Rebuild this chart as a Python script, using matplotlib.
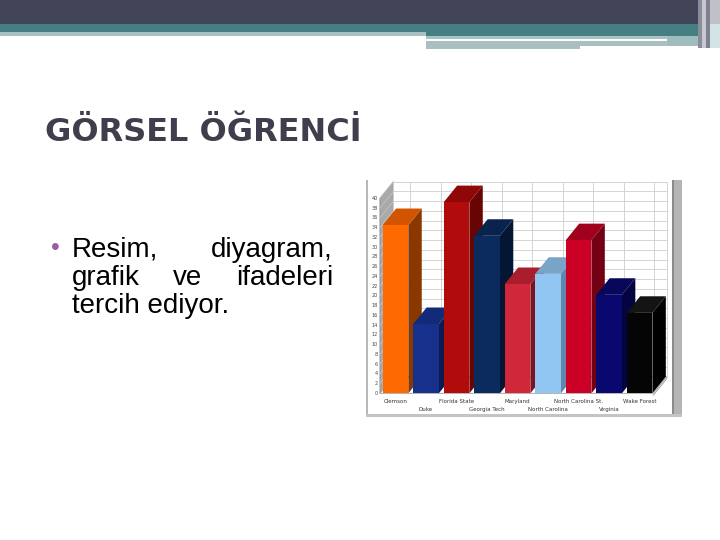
import numpy as np
import matplotlib
matplotlib.use('Agg')
import matplotlib.pyplot as plt
from matplotlib.patches import Polygon, Rectangle

# chart data
teams = ['Clemson', 'Duke', 'Florida State', 'Georgia Tech', 'Maryland',
         'North Carolina', 'North Carolina St.', 'Virginia', 'Wake Forest']
values = [34.5, 14.2, 39.2, 32.3, 22.4, 24.5, 31.4, 20.2, 16.5]
front_colors = ['#ff6a00', '#17308c', '#b20b0b', '#0b2a5e', '#d0283a',
                '#92c6f2', '#cc0027', '#08086e', '#050505']
top_colors = ['#d25300', '#132a78', '#8f0707', '#0a234e', '#a81e2d',
              '#7aa3c8', '#a1001c', '#08085a', '#141414']
side_colors = ['#8a3800', '#0c1b52', '#690404', '#051634', '#7c1320',
               '#5f86ab', '#730013', '#040440', '#000000']
yticks = list(range(0, 41, 2))

title = 'GÖRSEL ÖĞRENCİ'
line1 = ['Resim,', 'diyagram,']
line2 = ['grafik', 've', 'ifadeleri']
line3 = 'tercih ediyor.'

fig = plt.figure(figsize=(7.2, 5.4), dpi=100)
fig.patch.set_facecolor('white')

# overlay in pixel coordinates for the slide decoration
deco = fig.add_axes([0, 0, 1, 1])
deco.set_xlim(0, 720)
deco.set_ylim(540, 0)
deco.axis('off')

def box(x0, y0, x1, y1, c):
    deco.add_patch(Rectangle((x0, y0), x1 - x0, y1 - y0, facecolor=c, edgecolor='none'))

# header band
box(0, 0, 700, 24, '#414356')
box(0, 24, 700, 32, '#467f83')
box(426, 32, 700, 36, '#467f83')
box(0, 32, 426, 36, '#a8c1c3')
box(426, 36, 667, 39, '#a9c2c4')
box(426, 41, 667, 46, '#a9bfc1')
box(426, 46, 580, 49, '#a9bfc1')
box(667, 36, 700, 46, '#9fbcbf')
box(698, 0, 702, 48, '#8b8d9a')
box(702, 0, 706, 48, '#c8c9d0')
box(706, 0, 710, 48, '#7e8090')
box(710, 0, 720, 24, '#bfc0c8')
box(710, 24, 720, 48, '#d4e4e5')

# chart picture frame
box(365, 178, 682, 418, 'white')
box(366, 180, 368, 416, '#b8b8b8')
box(672, 180, 682, 416, '#b5b5b5')
box(672, 180, 674, 416, '#8c8c8c')
box(366, 414, 682, 417, '#c4c4c4')

# title and bullet text
deco.text(45, 141, title, fontsize=23, family='DejaVu Sans', fontweight='bold',
          color='#3e3e4c', va='baseline', ha='left')
deco.text(55, 248, '•', fontsize=18, family='Liberation Sans', color='#9b5ba5',
          va='center', ha='center')
tkw = dict(fontsize=20, family='Liberation Sans', color='black', va='baseline')
x_left, x_right = 72, 333
deco.text(x_left, 257, line1[0], ha='left', **tkw)
deco.text(x_right, 257, line1[1], ha='right', **tkw)
w_objs = [deco.text(x_left, 285, w, ha='left', **tkw) for w in line2]
deco.text(x_left, 313, line3, ha='left', **tkw)

# justify the middle line
r = fig.canvas.get_renderer()
widths = [t.get_window_extent(r).width for t in w_objs]
gap = (x_right - x_left - sum(widths)) / 2
w_objs[1].set_x(x_left + widths[0] + gap)
w_objs[2].set_x(x_left + widths[0] + gap + widths[1] + gap)

# 3D-looking bar chart
ax = fig.add_axes([365 / 720, 1 - 417 / 540, 317 / 720, 237 / 540])
ax.set_xlim(-0.58, 9.81)
ax.set_ylim(-4.86, 43.75)
ax.axis('off')

w = 0.84
dx, dy = 0.44, 3.4
x0f, x1f = -0.09, 8.87

# left wall, back wall, floor
ax.add_patch(Polygon([(x0f, 0), (x0f + dx, dy), (x0f + dx, 40 + dy), (x0f, 40)],
                     facecolor='#a9a9a9', edgecolor='#8c8c8c', lw=0.6, zorder=1))
ax.add_patch(Rectangle((x0f + dx, dy), x1f - x0f, 40, facecolor='white',
                       edgecolor='#cfcfcf', lw=0.6, zorder=1))
for v in yticks:
    ax.plot([x0f + dx, x1f + dx], [v + dy, v + dy], color='#d4d4d4', lw=0.7, zorder=1.5)
    ax.plot([x0f, x0f + dx], [v, v + dy], color='#c8c8c8', lw=0.5, zorder=1.5)
for k in range(9):
    ax.plot([0.9 + k, 0.9 + k], [dy, 40 + dy], color='#d4d4d4', lw=0.7, zorder=1.5)
ax.add_patch(Polygon([(x0f, 0), (x1f, 0), (x1f + dx, dy), (x0f + dx, dy)],
                     facecolor='white', edgecolor='#9a9a9a', lw=0.6, zorder=1.6))
ax.plot([x1f, x1f + dx], [-0.4, dy - 0.4], color='#9a9a9a', lw=0.6, zorder=1.6)

xs = np.arange(len(teams))
for i, (x, v) in enumerate(zip(xs, values)):
    z = 2 + i
    ax.add_patch(Polygon([(x + w, 0), (x + w + dx, dy), (x + w + dx, v + dy), (x + w, v)],
                         facecolor=side_colors[i], edgecolor='none', zorder=z))
    ax.add_patch(Polygon([(x, v), (x + w, v), (x + w + dx, v + dy), (x + dx, v + dy)],
                         facecolor=top_colors[i], edgecolor='none', zorder=z))
    ax.bar(x, v, width=w, align='edge', color=front_colors[i], zorder=z + 0.5)

for v in yticks:
    ax.text(-0.17, v, str(v), fontsize=3.5, color='#444444', ha='right', va='center')
for i, t in enumerate(teams):
    yy = -1.6 if i % 2 == 0 else -3.4
    ax.text(xs[i] + w / 2, yy, t, fontsize=4, color='#333333', ha='center', va='center')

fig.savefig('out.png', dpi=100)
